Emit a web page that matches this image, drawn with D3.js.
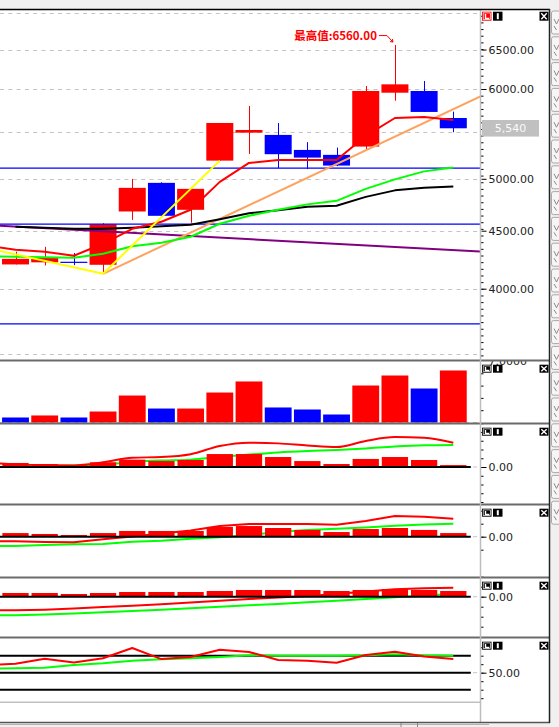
<!DOCTYPE html>
<meta charset="utf-8">
<title>K线</title>
<script src="https://cdn.jsdelivr.net/npm/d3@7/dist/d3.min.js"></script>
<style>

body {
  margin: 0;
  background: #f0f0f0;
}

svg {
  display: block;
  font-family: "DejaVu Sans", sans-serif;
}

</style>
<body>
<script>

// candles, one per bar
var open  = [4202, 4220, 4225, 4199, 4679, 4959, 4695, 5188, 5491, 5466, 5302, 5249, 5338, 5955, 5976, 5657];
var high  = [4312, 4355, 4300, 4570, 4999, 4965, 4899, 5600, 5797, 5600, 5386, 5327, 6036, 6560, 6098, 5730];
var low   = [4202, 4193, 4196, 4123, 4600, 4634, 4573, 5188, 5259, 5109, 5099, 5130, 5302, 5860, 5727, 5496];
var close = [4250, 4264, 4222, 4559, 4909, 4638, 4899, 5600, 5521, 5256, 5220, 5136, 5976, 6057, 5727, 5540];

// moving averages (lists marked "from -1" start one bar before the first candle)
var ma5  = [4365, 4329, 4311, 4277, 4382, 4517, 4582, 4695, 4969, 5164, 5195, 5195, 5195, 5455, 5657, 5669, 5635]; // from -1
var ma10 = [4274, 4268, 4264, 4259, 4294, 4360, 4391, 4445, 4564, 4638, 4695, 4747, 4781, 4899, 4994, 5076, 5115]; // from -1
var ma20 = [4536, 4527, 4517, 4517, 4527, 4540, 4554, 4605, 4662, 4690, 4723, 4733, 4820, 4884, 4909, 4922];

// drawn lines, [bar, price]
var purpleLine = [[-1, 4551], [16, 4313]];
var orangeLine = [[3, 4123], [16, 5921]];
var yellowLine = [[-1, 4345], [3, 4123], [7, 5188]];
var levels = [5110, 4560, 3725];

var priceGrid = [7000, 6500, 6000, 5500, 5000, 4500, 4000, 3500];
var priceLabels = [6500, 6000, 5000, 4500, 4000];
var lastPrice = 5540;

// volume
var volume = [0.57, 0.80, 0.57, 1.25, 3.07, 1.59, 1.59, 3.41, 4.67, 1.71, 1.48, 0.91, 4.21, 5.35, 3.87, 5.92];
var volUp  = [0, 1, 0, 1, 1, 0, 1, 1, 1, 0, 0, 0, 1, 1, 0, 1];
var volTicks = [1.4, 2.8, 4.2, 5.6];
var volTop = 7;

// indicator 1
var hist2 = [23, 17, 11, 27, 42, 34, 40, 74, 74, 57, 34, 17, 46, 57, 40, 11];
var fast2 = [26, 15, 11, 9, 27, 53, 57, 73, 120, 139, 135, 123, 114, 149, 171, 167, 139]; // from -1
var slow2 = [7, 6, 9, 14, 29, 37, 42, 57, 71, 83, 91, 97, 106, 117, 124, 126];

// indicator 2
var hist3 = [28, 21, 13, 28, 44, 44, 44, 75, 82, 67, 52, 36, 59, 67, 52, 28];
var fast3 = [-35, -35, -41, -43, -20, 2, 25, 48, 82, 98, 98, 98, 92, 121, 159, 154, 138]; // from -1
var slow3 = [-72, -72, -64, -58, -56, -39, -31, -15, -5, 13, 36, 52, 61, 71, 85, 94, 100]; // from -1

// indicator 3
var hist4 = [37, 37, 27, 37, 47, 47, 47, 57, 67, 67, 67, 57, 67, 77, 67, 57];
var fast4 = [-136, -136, -130, -118, -103, -90, -76, -58, -40, -23, -8, 7, 27, 52, 74, 84, 90]; // from -1
var slow4 = [-186, -186, -178, -168, -156, -143, -130, -116, -100, -86, -73, -56, -40, -23, -6, 12, 27]; // from -1

// oscillator
var rsi1 = [59, 60.5, 66.5, 62, 67, 79, 66, 68.5, 77, 74.4, 65, 64, 61.8, 70.8, 74.7, 69, 66.1]; // from -1
var rsi2 = [54.4, 55.3, 55.9, 59, 61, 64, 65.8, 67, 68.5, 70.5, 70, 70, 70, 70.6, 71.8, 70.5, 70]; // from -1
var rsiLevels = [70, 50, 30];


var width = 559, height = 727;
var plotRight = 480, frameRight = 549;
var up = "#ff0000", down = "#0000ff";

var x = d3.scaleLinear().domain([0, 15]).range([15.5, 453.3]);
var step = x(1) - x(0);
var dataEnd = x(15.6);

var yMain = d3.scaleLog().domain([4000, 6000]).range([288.7, 89]);
var yVol = d3.scaleLinear().domain([0, volTop]).range([422.5, 361]);
var y2 = d3.scaleLinear().domain([-100, 100]).range([484.5, 449.5]);
var y3 = d3.scaleLinear().domain([-100, 100]).range([549.7, 523.7]);
var y4 = d3.scaleLinear().domain([-100, 100]).range([606.7, 586.7]);
var y5 = d3.scaleLinear().domain([30, 70]).range([689.7, 655.7]);

var panels = [
  {id: "main", top: 10, bottom: 360},
  {id: "vol", top: 361, bottom: 423},
  {id: "p2", top: 424, bottom: 504},
  {id: "p3", top: 505, bottom: 577},
  {id: "p4", top: 578, bottom: 637},
  {id: "p5", top: 638, bottom: 722}
];

var svg = d3.select("body").append("svg")
  .attr("width", width)
  .attr("height", height);

svg.append("rect").attr("width", width).attr("height", height).attr("fill", "#f0f0f0");
svg.append("rect")
  .attr("x", 0).attr("y", 10)
  .attr("width", frameRight).attr("height", 712)
  .attr("fill", "#fff");

var defs = svg.append("defs");
panels.forEach(function(p) {
  defs.append("clipPath").attr("id", "clip-" + p.id)
    .append("rect")
    .attr("x", 0).attr("y", p.top)
    .attr("width", plotRight).attr("height", p.bottom - p.top);
});

function layer(id) {
  return svg.append("g").attr("clip-path", "url(#clip-" + id + ")");
}

function hline(g, y, x1, x2, color, w, dash) {
  g.append("line")
    .attr("x1", x1).attr("x2", x2)
    .attr("y1", y).attr("y2", y)
    .attr("stroke", color)
    .attr("stroke-width", w)
    .attr("stroke-dasharray", dash || null);
}

// from -1 series
function lineFrom(scale, curve) {
  return d3.line()
    .x(function(d, i) { return x(i - 1); })
    .y(function(d) { return scale(d); })
    .curve(curve || d3.curveLinear);
}

function lineAt(scale, curve) {
  return d3.line()
    .x(function(d, i) { return x(i); })
    .y(function(d) { return scale(d); })
    .curve(curve || d3.curveLinear);
}

var pairLine = d3.line()
  .x(function(d) { return x(d[0]); })
  .y(function(d) { return yMain(d[1]); });

function path(g, d, color, w) {
  g.append("path")
    .attr("d", d)
    .attr("fill", "none")
    .attr("stroke", color)
    .attr("stroke-width", w)
    .attr("stroke-linejoin", "round");
}

// ---- main panel ----
var gMain = layer("main");

priceGrid.forEach(function(v) {
  hline(gMain, Math.round(yMain(v)) + 0.5, 0, plotRight, "#c4c4c4", 1, "4,4.3");
});

var bars = d3.range(close.length).map(function(i) {
  return {i: i, o: open[i], h: high[i], l: low[i], c: close[i]};
});

function candleColor(d) { return d.c >= d.o ? up : down; }

var bodyW = step * 0.925;
var candle = gMain.selectAll("g.candle")
  .data(bars)
  .enter().append("g")
  .attr("class", "candle");

candle.append("line")
  .attr("x1", function(d) { return Math.round(x(d.i)) + 0.5; })
  .attr("x2", function(d) { return Math.round(x(d.i)) + 0.5; })
  .attr("y1", function(d) { return yMain(d.h); })
  .attr("y2", function(d) { return yMain(d.l); })
  .attr("stroke", candleColor)
  .attr("stroke-width", 1);

candle.append("rect")
  .attr("x", function(d) { return x(d.i) - bodyW / 2; })
  .attr("width", bodyW)
  .attr("y", function(d) { return yMain(Math.max(d.o, d.c)); })
  .attr("height", function(d) { return Math.max(1.2, Math.abs(yMain(d.o) - yMain(d.c))); })
  .attr("fill", candleColor);

levels.forEach(function(v) {
  hline(gMain, yMain(v), 0, plotRight, "#0000ff", 1.3);
});

path(gMain, pairLine(purpleLine), "#800080", 2);
path(gMain, pairLine(orangeLine), "#ffa25e", 2);
path(gMain, lineAt(yMain)(ma20), "#000", 2);
path(gMain, lineFrom(yMain)(ma10), "#00ff00", 2);
path(gMain, lineFrom(yMain)(ma5), "#ff0000", 2);
path(gMain, pairLine(yellowLine), "#ffff00", 2);

// highest value note
var hi = d3.max(high), hiIdx = high.indexOf(hi);
var hx = x(hiIdx), hy = yMain(hi);
svg.append("text")
  .attr("x", hx - 18)
  .attr("y", hy - 9)
  .attr("dy", "0.36em")
  .attr("text-anchor", "end")
  .attr("fill", "#ff0000")
  .style("font-family", "'Noto Sans CJK SC', sans-serif")
  .style("font-weight", "bold")
  .style("font-size", "11.5px")
  .text("最高值:" + d3.format(".2f")(hi));
path(svg, "M" + (hx - 16) + "," + (hy - 9.5) + "H" + (hx - 8) + "L" + (hx - 2) + "," + (hy - 3), "#ff0000", 1);
path(svg, "M" + (hx - 5) + "," + (hy - 3.5) + "L" + (hx - 2) + "," + (hy - 3) + "L" + (hx - 2.5) + "," + (hy - 6), "#ff0000", 1);

// ---- volume ----
var gVol = layer("vol");
hline(gVol, yVol(0), 0, plotRight, "#c4c4c4", 1, "4,4.3");
var volW = step * 0.92;
gVol.selectAll("rect.vol")
  .data(volume)
  .enter().append("rect")
  .attr("class", "vol")
  .attr("x", function(d, i) { return x(i) - volW / 2; })
  .attr("width", volW)
  .attr("y", function(d) { return yVol(d); })
  .attr("height", function(d) { return yVol(0) - yVol(d); })
  .attr("fill", function(d, i) { return volUp[i] ? up : down; });

// ---- indicator panels ----
var histW = step * 0.9;
function indicator(id, scale, hist, fast, slow, slowFromPrev, curve) {
  var g = layer(id);
  hline(g, scale(0), 0, plotRight, "#c4c4c4", 1, "4,4.3");
  path(g, (slowFromPrev ? lineFrom(scale, curve) : lineAt(scale, curve))(slow), "#00ff00", 2);
  path(g, lineFrom(scale, curve)(fast), "#ff0000", 2);
  g.selectAll("rect.h")
    .data(hist)
    .enter().append("rect")
    .attr("class", "h")
    .attr("x", function(d, i) { return x(i) - histW / 2; })
    .attr("width", histW)
    .attr("y", function(d) { return scale(Math.max(0, d)); })
    .attr("height", function(d) { return Math.abs(scale(0) - scale(d)); })
    .attr("fill", up);
  hline(g, scale(0), 0, dataEnd, "#000", 2);
}

indicator("p2", y2, hist2, fast2, slow2, false, d3.curveMonotoneX);
indicator("p3", y3, hist3, fast3, slow3, true);
indicator("p4", y4, hist4, fast4, slow4, true);

var g5 = layer("p5");
hline(g5, y5(50), 0, plotRight, "#c4c4c4", 1, "4,4.3");
rsiLevels.forEach(function(v) { hline(g5, y5(v), 0, dataEnd, "#000", 2); });
path(g5, lineFrom(y5)(rsi2), "#00ff00", 2);
path(g5, lineFrom(y5)(rsi1), "#ff0000", 2);
hline(svg, 702.3, 0, plotRight, "#c0c0c0", 1.5);

// ---- axes ----
function styleAxis(g) {
  g.select(".domain").remove();
  g.attr("font-family", null).attr("font-size", null);
  g.selectAll("text")
    .attr("fill", "#222")
    .style("font-size", "11px");
}

function axisFor(scale, labels, minor, fmt) {
  svg.append("g")
    .attr("transform", "translate(" + (plotRight + 0.5) + ",0)")
    .call(d3.axisRight(scale).tickValues(minor).tickSize(3).tickFormat(""))
    .call(styleAxis);
  svg.append("g")
    .attr("transform", "translate(" + (plotRight + 1.5) + ",0)")
    .call(d3.axisRight(scale).tickValues(labels).tickSize(5).tickPadding(2).tickFormat(fmt))
    .call(styleAxis);
}

var mainMinor = d3.range(-11, 41).map(function(k) {
  return yMain.invert(yMain(6000) + k * 6.66);
});
axisFor(yMain, priceLabels, mainMinor, d3.format(".2f"));
axisFor(yVol, [], volTicks, "");
axisFor(y2, [0], d3.range(-200, 251, 50), d3.format(".2f"));
axisFor(y3, [0], d3.range(-100, 201, 100), d3.format(".2f"));
axisFor(y4, [0], d3.range(-300, 201, 100), d3.format(".2f"));
axisFor(y5, [50], d3.range(20, 81, 10), d3.format(".2f"));

// volume scale top, cut by the panel edge
svg.append("clipPath").attr("id", "clip-volaxis")
  .append("rect").attr("x", plotRight).attr("y", 361).attr("width", 69).attr("height", 62);
svg.append("text")
  .attr("clip-path", "url(#clip-volaxis)")
  .attr("x", plotRight + 8.5)
  .attr("y", yVol(volTop))
  .attr("dy", "0.36em")
  .attr("fill", "#222")
  .style("font-size", "11px")
  .text(d3.format(".4f")(volTop));

// last price
var ly = yMain(lastPrice);
svg.append("rect")
  .attr("x", 482).attr("y", ly - 8.3)
  .attr("width", 57).attr("height", 16.6)
  .attr("fill", "#c0c0c0");
svg.append("text")
  .attr("x", 510.5).attr("y", ly)
  .attr("dy", "0.36em")
  .attr("text-anchor", "middle")
  .attr("fill", "#fafafa")
  .style("font-size", "11px")
  .text(d3.format(",")(lastPrice));

// ---- frame ----
panels.slice(0, -1).forEach(function(p) {
  hline(svg, p.bottom + 0.5, 0, frameRight, "#6b6b6b", 2);
});
svg.append("line")
  .attr("x1", plotRight + 0.5).attr("x2", plotRight + 0.5)
  .attr("y1", 10).attr("y2", 722)
  .attr("stroke", "#bdbdbd").attr("stroke-width", 1.5);
hline(svg, 9.5, 0, frameRight + 1, "#000", 1.5);
hline(svg, 722.5, 0, frameRight + 1, "#555", 1.5);
svg.append("line")
  .attr("x1", frameRight + 0.5).attr("x2", frameRight + 0.5)
  .attr("y1", 9).attr("y2", 723)
  .attr("stroke", "#222").attr("stroke-width", 1.5);

hline(svg, 724.5, 0, 489, "#b4b4b4", 1);
[401, 417.5].forEach(function(v) {
  svg.append("line").attr("x1", v).attr("x2", v).attr("y1", 723).attr("y2", 727)
    .attr("stroke", "#888").attr("stroke-width", 1);
});

// panel buttons
function icons(y0, h, mainPanel) {
  var g = svg.append("g").attr("transform", "translate(0," + y0 + ")");
  g.append("rect").attr("x", 482).attr("width", 9.5).attr("height", h)
    .attr("fill", mainPanel ? "#ff0000" : "#000");
  g.append("rect").attr("x", 483.2).attr("y", 1.2).attr("width", 7.1).attr("height", h - 2.4)
    .attr("fill", "none").attr("stroke", "#fff").attr("stroke-width", 0.7);
  path(g, "M485.5,2.3V" + (h - 2.2) + "H489.3", "#fff", 1.4);
  g.append("rect").attr("x", 493).attr("width", 9.5).attr("height", h).attr("fill", "#000");
  path(g, "M497.8,1.5V" + (h - 1.5), "#fff", 2);
  g.append("rect").attr("x", 539.5).attr("width", 9).attr("height", h).attr("fill", "#000");
  path(g, "M541.3,1.5L546.7," + (h - 1.5) + "M546.7,1.5L541.3," + (h - 1.5), "#fff", 1.4);
}
icons(11.7, 9, true);
panels.slice(1).forEach(function(p) { icons(p.top + 3.7, 8, false); });

// right toolbar
var tool = svg.append("g");
d3.range(20).forEach(function(k) {
  var ty = 11 + k * 25.8;
  tool.append("rect")
    .attr("x", 551.5).attr("y", ty)
    .attr("width", 14).attr("height", 23).attr("rx", 2)
    .attr("fill", "#f6f6f6").attr("stroke", "#a8a8a8");
  path(tool, "M554," + (ty + 8) + "l2.5,5l2.5,-5M554," + (ty + 15) + "l2.5,4", "#8a8a8a", 1);
});

</script>
</body>
